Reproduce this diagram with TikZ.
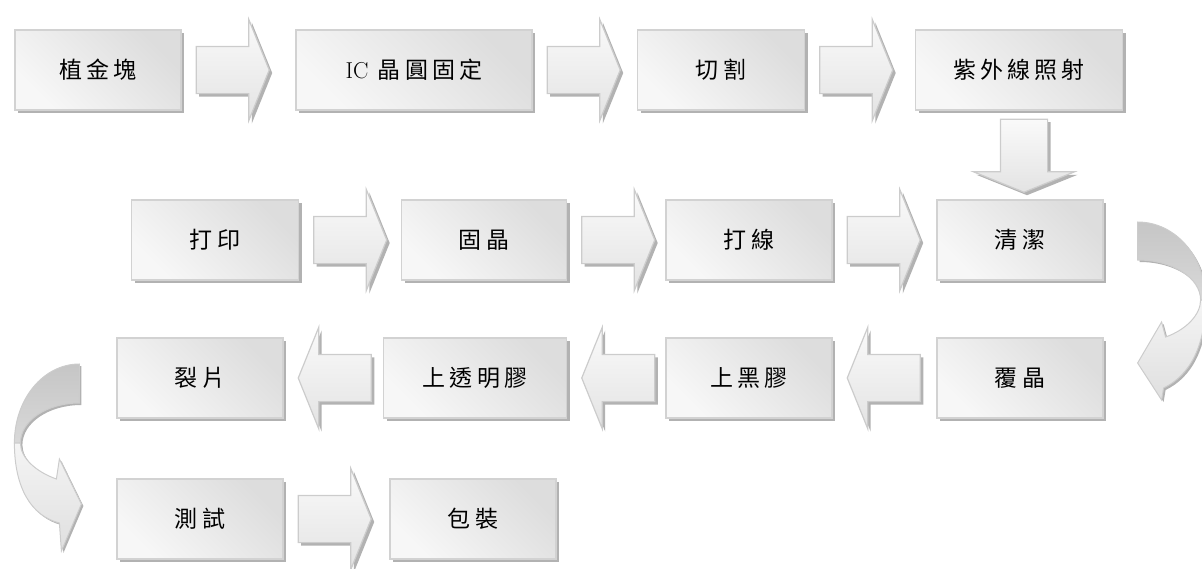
\documentclass[tikz,border=0pt]{standalone}
\usepackage{fontspec}
\usepackage{xcolor}
\usepackage{tikz}
\usetikzlibrary{positioning, shapes.arrows, shadows}
\newfontfamily\cjk[LetterSpace=18]{Noto Sans CJK TC}

\begin{document}
\begin{tikzpicture}[x=1pt, y=-1pt,
    stepbox/.style={draw=gray!35, line width=1.2pt, left color=gray!6, right color=gray!27, shading angle=135,
        minimum height=80pt, inner sep=0pt, font=\cjk\fontsize{23}{27}\selectfont,
        drop shadow={shadow xshift=3pt, shadow yshift=-3pt, fill=black!30, opacity=1}},
    barrow/.style={single arrow, draw=gray!40, line width=1.2pt, top color=gray!4, bottom color=gray!22,
        minimum height=73pt, single arrow head extend=27pt, single arrow tip angle=136,
        inner xsep=0pt, inner ysep=23pt, drop shadow={shadow xshift=3pt, shadow yshift=-3pt, fill=black!30, opacity=1}},
    bandback/.style={draw=gray!40, line width=1pt, top color=gray!45, bottom color=gray!30,
        drop shadow={shadow xshift=2pt, shadow yshift=-2pt, fill=black!30, opacity=1}},
    bandfront/.style={draw=gray!40, line width=1pt, top color=gray!8, bottom color=gray!25,
        drop shadow={shadow xshift=2pt, shadow yshift=-2pt, fill=black!30, opacity=1}}]
    \useasboundingbox (0,0) rectangle (1202,568);

    % process steps
    \foreach \n/\x/\y/\w/\t in {plant/98/70/166/植金塊, ic/414/70/236/{{\rmfamily IC}\ 晶圓固定},
        cut/721/70/167/切割, uv/1019/70/207/紫外線照射,
        mark/215/240/167/打印, die/484/240/165/固晶, wire/749/240/166/打線, clean/1020/240/166/清潔,
        split/200/378/166/裂片, clear/475/378/183/上透明膠, black/749/378/166/上黑膠, flip/1020/378/166/覆晶,
        test/200/519/166/測試, pack/473/519/166/包裝} {
        \node[stepbox, minimum width=\w pt] (\n) at (\x,\y) {\t};
    }

    % block arrows
    \foreach \a/\b in {plant/ic, ic/cut, cut/uv, mark/die, die/wire, wire/clean, test/pack} {
        \node[barrow, right=14pt of \a] (\a-\b) {};
    }
    \foreach \a/\b in {flip/black, black/clear, clear/split} {
        \node[barrow, shape border rotate=180, right=14pt of \b] (\a-\b) {};
    }
    \node[barrow, shape border rotate=270, inner xsep=23pt, inner ysep=0pt, below=8pt of uv, xshift=5pt] (uv-clean) {};

    % curved arrow clean -> flip
    \begin{scope}[shift={(clean.east)}]
        \draw[bandback] (34,-18) .. controls (72,-18) and (102,17) .. (102,60) -- (97,60)
            .. controls (97,38) and (69,20) .. (34,20) -- cycle;
        \draw[bandfront] (102,60) .. controls (102,105) and (87,135) .. (60,148) -- (58,160) -- (34,123)
            -- (58,82) -- (62,97) .. controls (82,90) and (97,75) .. (97,60) -- cycle;
    \end{scope}

    % curved arrow split -> test
    \begin{scope}[shift={(split.west)}]
        \draw[bandback] (-37,-14) .. controls (-73,-14) and (-102,21) .. (-102,65) -- (-96,65)
            .. controls (-96,43) and (-70,25) .. (-37,25) -- cycle;
        \draw[bandfront] (-102,65) .. controls (-102,110) and (-85,138) .. (-57,145) -- (-55,173) -- (-35,126)
            -- (-57,81) -- (-60,101) .. controls (-80,94) and (-96,80) .. (-96,65) -- cycle;
    \end{scope}
\end{tikzpicture}
\end{document}
